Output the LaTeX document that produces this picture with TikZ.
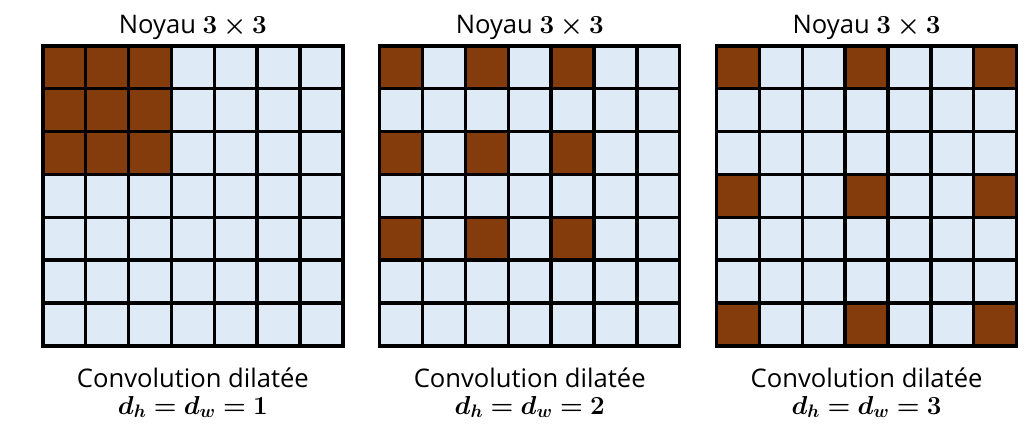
\documentclass[tikz,border=0pt]{standalone}
\usepackage{fontspec}
\usepackage{amsmath}
\usepackage{bm}
\setmainfont{Open Sans}
\usetikzlibrary{positioning}
\definecolor{kernbrown}{HTML}{843C0C}
\definecolor{cellblue}{HTML}{DEEBF7}

\begin{document}
\begin{tikzpicture}[
  grid7/.style={minimum size=7cm, inner sep=0pt, outer sep=0pt},
  gline/.style={line width=2.2pt, line cap=rect},
  lbl/.style={font=\fontsize{17}{20}\selectfont, inner sep=0pt},
  flbl/.style={font=\fontsize{18.5}{22}\selectfont, inner sep=0pt}
]
\useasboundingbox (0,0) rectangle (24.01,-10.13);
\foreach \dil [count=\k] in {1,2,3} {
  \node[grid7] (g\k) at ({4.5+7.86*(\k-1)},-4.57) {};
  % cells
  \fill[cellblue] (g\k.south west) rectangle (g\k.north east);
  % kernel taps
  \foreach \i in {0,1,2}
    \foreach \j in {0,1,2}
      \fill[kernbrown] ([xshift={\j*\dil*1cm}, yshift={-\i*\dil*1cm}]g\k.north west) rectangle ++(1,-1);
  % grid lines
  \foreach \n in {0,...,7} {
    \draw[gline] ([xshift={\n*1cm}]g\k.south west) -- ([xshift={\n*1cm}]g\k.north west);
    \draw[gline] ([yshift={\n*1cm}]g\k.south west) -- ([yshift={\n*1cm}]g\k.south east);
  }
  \node[lbl, anchor=base] (t\k) at ([yshift=0.3cm]g\k.north) {Noyau $\bm{3\times 3}$};
  \node[lbl, anchor=base] (c\k) at ([yshift=-0.98cm]g\k.south) {Convolution dilatée};
  \node[flbl, anchor=base] (f\k) at ([yshift=-1.59cm]g\k.south) {$\bm{d_h = d_w = \dil}$};
}
\end{tikzpicture}
\end{document}
